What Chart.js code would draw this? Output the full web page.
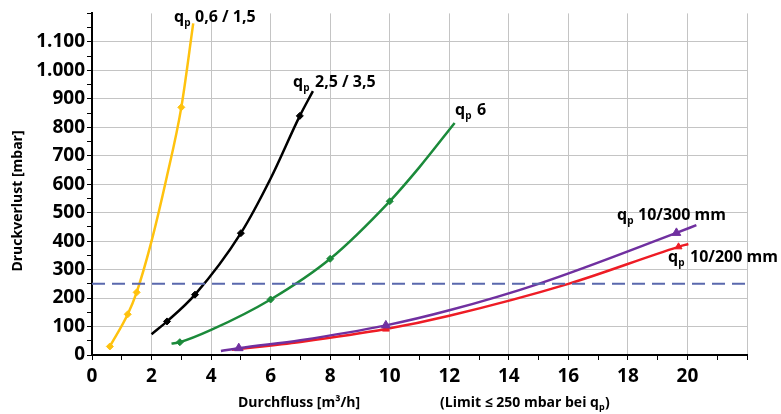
<!DOCTYPE html>
<html>
<head>
<meta charset="utf-8">
<script src="https://cdn.jsdelivr.net/npm/chart.js@4/dist/chart.umd.min.js"></script>
<style>
html,body{margin:0;padding:0;background:#fff;}
#wrap{width:781px;height:414px;position:relative;}
</style>
</head>
<body>
<div id="wrap"><canvas id="c"></canvas></div>
<script>
// Data (x = flow m3/h, y = pressure loss mbar)
const yellowX = [0.6, 1.2, 1.5, 2.0, 2.5, 3.0, 3.4];
const yellowY = [30, 143, 220, 400, 620, 870, 1165];
const yellowMarks = [1, 1, 1, 0, 0, 1, 0];

const blackX = [2.0, 2.52, 3.46, 5.0, 6.0, 6.98, 7.42];
const blackY = [73, 118, 212, 428, 620, 840, 927];
const blackMarks = [0, 1, 1, 1, 0, 1, 0];

const greenX = [2.67, 2.95, 4.0, 6.0, 8.0, 10.0, 11.0, 12.18];
const greenY = [40, 45, 88, 195, 338, 540, 660, 815];
const greenMarks = [0, 1, 0, 1, 1, 1, 0, 0];

const purpleX = [4.33, 4.93, 7.0, 9.87, 12.0, 15.0, 19.63, 20.3];
const purpleY = [14, 24, 52, 104, 157, 250, 429, 456];
const purpleMarks = [0, 1, 0, 1, 0, 0, 1, 0];

const redX = [4.7, 7.0, 9.87, 12.0, 16.0, 19.7, 20.03];
const redY = [18, 46, 91, 138, 250, 380, 390];
const redMarks = [0, 0, 1, 0, 0, 1, 0];

const limitX = [0, 22];
const limitY = [250, 250];

const xTickLabels = [0, 2, 4, 6, 8, 10, 12, 14, 16, 18, 20];
const yTickLabels = ['0', '100', '200', '300', '400', '500', '600', '700', '800', '900', '1.000', '1.100'];

const curveLabels = [
  {q: 174, t: 195, b: 22, text: '0,6 / 1,5'},
  {q: 293, t: 315, b: 87, text: '2,5 / 3,5'},
  {q: 455, t: 477, b: 115, text: '6'},
  {q: 617, t: 638, b: 220, text: '10/300 mm'},
  {q: 668, t: 690, b: 262, text: '10/200 mm'}
];

function pts(xs, ys) { return xs.map((x, i) => ({x: x, y: ys[i]})); }
function radii(marks, r) { return marks.map(m => m ? r : 0); }

const FONT = "'Open Sans', 'DejaVu Sans', sans-serif";

function curve(label, xs, ys, marks, color, style, r) {
  return {
    label: label,
    data: pts(xs, ys),
    borderColor: color,
    backgroundColor: color,
    borderWidth: 2.5,
    pointStyle: style,
    pointRadius: radii(marks, r),
    pointHoverRadius: radii(marks, r),
    pointBorderWidth: 1,
    cubicInterpolationMode: 'monotone',
    tension: 0.4,
    fill: false
  };
}

const labelPlugin = {
  id: 'labels',
  afterDraw(chart) {
    const ctx = chart.ctx;
    ctx.save();
    ctx.fillStyle = '#000';
    ctx.textBaseline = 'alphabetic';
    ctx.textAlign = 'left';
    curveLabels.forEach(l => {
      ctx.font = 'bold 16px ' + FONT;
      ctx.fillText('q', l.q, l.b);
      const w = ctx.measureText('q').width;
      ctx.font = 'bold 10px ' + FONT;
      ctx.fillText('p', l.q + w, l.b + 4);
      ctx.font = 'bold 16px ' + FONT;
      ctx.fillText(l.text, l.t, l.b);
    });
    // x axis title parts
    ctx.font = 'bold 14px ' + FONT;
    ctx.fillText('Durchfluss [m³/h]', 238, 407);
    const s = '(Limit ≤ 250 mbar bei q';
    ctx.fillText(s, 440, 407);
    let w = ctx.measureText(s).width;
    ctx.font = 'bold 9px ' + FONT;
    ctx.fillText('p', 440 + w, 410);
    const wp = ctx.measureText('p').width;
    ctx.font = 'bold 14px ' + FONT;
    ctx.fillText(')', 440 + w + wp + 0.5, 407);
    // y axis title
    ctx.translate(18, 201);
    ctx.rotate(-Math.PI / 2);
    ctx.textAlign = 'center';
    ctx.textBaseline = 'middle';
    ctx.font = 'bold 14px ' + FONT;
    ctx.fillText('Druckverlust [mbar]', 0, 0);
    ctx.restore();
  }
};

const GRID = '#c4c4c4';

new Chart(document.getElementById('c'), {
  type: 'line',
  data: {
    datasets: [
      {
        label: 'Limit',
        data: pts(limitX, limitY),
        borderColor: '#5a68ad',
        borderWidth: 2,
        borderDash: [13, 7],
        pointRadius: 0,
        fill: false
      },
      curve('qp 0,6 / 1,5', yellowX, yellowY, yellowMarks, '#ffc20e', 'rectRot', 3.5),
      curve('qp 2,5 / 3,5', blackX, blackY, blackMarks, '#000000', 'rectRot', 3.5),
      curve('qp 6', greenX, greenY, greenMarks, '#1b8a3a', 'rectRot', 3.5),
      curve('qp 10/300 mm', purpleX, purpleY, purpleMarks, '#7030a0', 'triangle', 5),
      curve('qp 10/200 mm', redX, redY, redMarks, '#ee1c25', 'triangle', 4)
    ]
  },
  options: {
    responsive: true,
    maintainAspectRatio: false,
    animation: false,
    layout: {padding: {left: 0, top: 9, right: 34, bottom: 0}},
    plugins: {legend: {display: false}, tooltip: {enabled: false}},
    scales: {
      x: {
        type: 'linear',
        min: 0,
        max: 22,
        afterFit(s) { s.height = 59; },
        afterBuildTicks(s) {
          const t = [];
          for (let v = 0; v <= 22; v++) t.push({value: v});
          s.ticks = t;
        },
        ticks: {
          autoSkip: false,
          maxRotation: 0,
          padding: 5,
          color: '#000',
          font: {family: FONT, size: 19, weight: 'bold'},
          callback: v => xTickLabels.includes(v) ? String(v) : ''
        },
        grid: {
          color: c => (c.tick && c.tick.value % 2 === 0 && c.tick.value > 0) ? GRID : 'rgba(0,0,0,0)',
          tickColor: '#000',
          tickLength: 5,
          lineWidth: 1
        },
        border: {color: '#000', width: 2}
      },
      y: {
        type: 'linear',
        min: 0,
        max: 1200,
        afterFit(s) { s.width = 92; },
        afterBuildTicks(s) {
          const t = [];
          for (let v = 0; v <= 1200; v += 50) t.push({value: v});
          s.ticks = t;
        },
        ticks: {
          autoSkip: false,
          padding: 2,
          color: '#000',
          font: {family: FONT, size: 19, weight: 'bold'},
          callback: v => (v % 100 === 0 && v / 100 < yTickLabels.length) ? yTickLabels[v / 100] : ''
        },
        grid: {
          color: c => (c.tick && c.tick.value % 100 === 0 && c.tick.value > 0 && c.tick.value < 1200) ? GRID : 'rgba(0,0,0,0)',
          tickColor: '#000',
          tickLength: 5,
          lineWidth: 1
        },
        border: {color: '#000', width: 2}
      }
    }
  },
  plugins: [labelPlugin]
});
</script>
</body>
</html>
